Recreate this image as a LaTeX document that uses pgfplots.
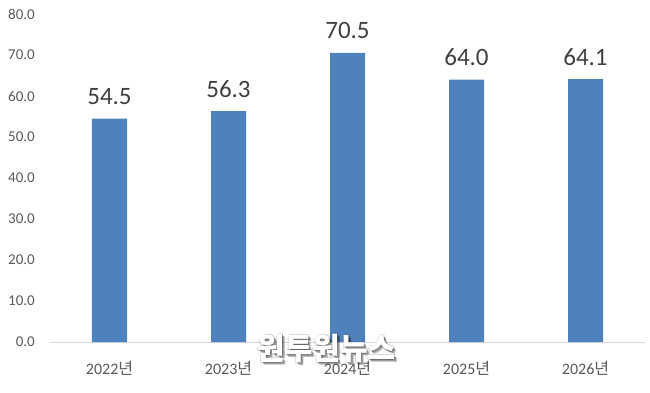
\documentclass[border=0pt]{standalone}
\usepackage{fontspec}
\setmainfont{Carlito}
\newfontfamily\kr{Noto Sans CJK KR}
\newfontfamily\krb[FakeBold=2.5]{Noto Sans CJK KR Bold}
\usepackage{pgfplots}
\pgfplotsset{compat=1.18}
\definecolor{barblue}{HTML}{4F81BD}
\definecolor{ticktext}{HTML}{595959}
\definecolor{labeltext}{HTML}{404040}
\definecolor{baseline}{HTML}{D9D9D9}
\begin{document}
\begin{tikzpicture}
\useasboundingbox (-50pt,-50pt) rectangle (600pt,342pt);
\begin{axis}[
  at={(59.5pt,0pt)}, anchor=origin,
  scale only axis,
  width=595pt, height=328pt,
  xmin=-0.5, xmax=4.5,
  ymin=0, ymax=80,
  ytick={0,10,...,80},
  xtick={0,1,2,3,4},
  xticklabels={2022{\kr 년},2023{\kr 년},2024{\kr 년},2025{\kr 년},2026{\kr 년}},
  axis x line*=bottom, axis y line*=left,
  x axis line style={draw=baseline, line width=0.8pt, -},
  y axis line style={draw=none},
  major tick length=0pt,
  /pgf/number format/assume math mode=true,
  yticklabel={\pgfmathprintnumber[fixed,fixed zerofill,precision=1]{\tick}},
  yticklabel style={font=\fontsize{15}{15}\selectfont, text=ticktext, anchor=east, inner sep=0pt, xshift=-15pt},
  xticklabel style={font=\fontsize{16}{16}\selectfont, text=ticktext, anchor=center, inner sep=0pt, yshift=-26pt},
  ybar, bar width=35pt,
  nodes near coords={\pgfmathprintnumber[fixed,fixed zerofill,precision=1]{\pgfplotspointmeta}},
  nodes near coords style={font=\fontsize{25}{25}\selectfont, text=labeltext, anchor=center, yshift=22pt},
  clip=false,
]
\addplot[fill=barblue, draw=none] coordinates {(0,54.5) (1,56.3) (2,70.5) (3,64.0) (4,64.1)};
\end{axis}
\foreach \dx/\dy in {3/-3,2.5/-2.5,2/-2,1.5/-1.5,1/-1,-1/-1,1/1}{
  \node[font=\krb\fontsize{30}{30}\selectfont, text=black, opacity=0.10] at ({326pt-50pt+\dx pt},{-6pt+\dy pt}) {원투원뉴스};
}
\node[font=\krb\fontsize{30}{30}\selectfont, text=white] at (276pt,-6pt) {원투원뉴스};
\end{tikzpicture}
\end{document}
